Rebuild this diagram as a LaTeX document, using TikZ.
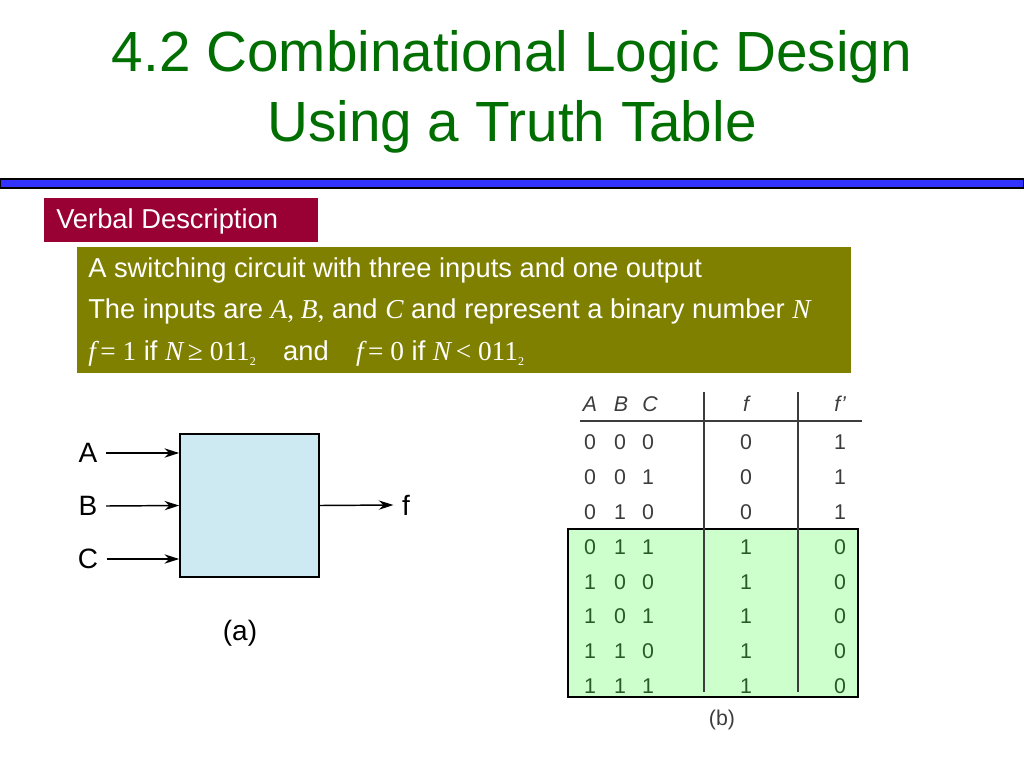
\documentclass[tikz,border=0pt]{standalone}
\usepackage{fontspec}
\setmainfont{Liberation Sans}
\newfontfamily\srf{Liberation Serif}
\usetikzlibrary{arrows.meta}
\definecolor{ttl}{RGB}{0,110,0}
\definecolor{barblue}{RGB}{51,51,255}
\definecolor{vred}{RGB}{153,0,51}
\definecolor{olive2}{RGB}{128,128,0}
\definecolor{lblue}{RGB}{205,234,242}
\definecolor{lgreen}{RGB}{204,255,204}
\definecolor{tgray}{RGB}{60,60,60}
\definecolor{tgreen}{RGB}{40,90,40}
\newcommand{\mi}[1]{{\srf\itshape #1}}
\newcommand{\mr}[1]{{\srf #1}}
\tikzset{
  arr/.style={-{Stealth[length=11pt,width=7pt]},line width=1.1pt},
  lab/.style={font=\fontsize{21}{24}\selectfont},
  cell/.style={font=\fontsize{16}{18}\selectfont,text=tgray},
  gcell/.style={font=\fontsize{16}{18}\selectfont,text=tgreen},
  wtxt/.style={text=white,font=\fontsize{20.5}{24}\selectfont,anchor=west,inner sep=0pt}
}
\begin{document}
\begin{tikzpicture}[x=0.75pt,y=-0.75pt]
\useasboundingbox (0,0) rectangle (1024,768);
\node[text=ttl,align=center,font=\fontsize{42.5}{52}\selectfont] (title) at (512,92) {4.2 Combinational Logic Design\\Using a Truth Table};
\draw[fill=barblue,draw=black,line width=0.8pt] (0,179) rectangle (1024,188);
\fill[vred] (44,198) rectangle (318,242);
\node[wtxt] (vd) at (56,221) {Verbal Description};
\fill[olive2] (77,247) rectangle (851,373);
\node[wtxt] (l1) at (88,270) {A switching circuit with three inputs and one output};
\node[wtxt] (l2) at (88,311) {The inputs are \mi{A}\mr{, }\mi{B}\mr{,} and \mi{C} and represent a binary number \mi{N}};
\node[wtxt] (l3) at (88,353) {\mi{f}\,\mr{= 1} if \mi{N}\,\mr{≥ 011}\raisebox{-0.4ex}{\mr{\small 2}}\quad and\quad \mi{f}\,\mr{= 0} if \mi{N}\,\mr{< 011}\raisebox{-0.4ex}{\mr{\small 2}}};
% block
\node[draw=black,line width=1.5pt,fill=lblue,minimum width=104pt,minimum height=107pt,inner sep=0pt] (blk) at (249.5,505.5) {};
\node[lab] (A) at (88,453) {A};
\node[lab] (B) at (88,506) {B};
\node[lab] (C) at (88,559) {C};
\coordinate (ai) at (blk.west |- A);
\coordinate (ci) at (blk.west |- C);
\draw[arr] (A.east) ++(4,0) -- (ai);
\draw[arr] (B.east) ++(4,0) -- (blk.west);
\draw[arr] (C.east) ++(4,0) -- (ci);
\node[lab] (f) at (406,505) {f};
\draw[arr] (blk.east) -- ([xshift=-3pt]f.west);
\node[lab] (ca) at (240,633) {(a)};
% table
\fill[lgreen] (568,529) rectangle (858,697);
\draw[line width=1.4pt] (568,529) rectangle (858,697);
\draw[line width=1.2pt,tgray] (580,421) -- (862,421);
\draw[line width=1.2pt,tgray] (704,392) -- (704,692);
\draw[line width=1.2pt,tgray] (798,392) -- (798,692);
\foreach \t/\x in {A/590,B/621,C/650,f/746,f'/840}
  \node[cell,font=\fontsize{16}{18}\selectfont\itshape] at (\x,404) {\t};
\foreach \a/\b/\c/\fv/\gv/\y/\st in {0/0/0/0/1/442/cell,0/0/1/0/1/477/cell,0/1/0/0/1/512/cell,0/1/1/1/0/547/gcell,1/0/0/1/0/582/gcell,1/0/1/1/0/616/gcell,1/1/0/1/0/651/gcell,1/1/1/1/0/686/gcell}{
  \node[\st] at (590,\y) {\a};
  \node[\st] at (620,\y) {\b};
  \node[\st] at (648,\y) {\c};
  \node[\st] at (746,\y) {\fv};
  \node[\st] at (840,\y) {\gv};
}
\node[cell] (cb) at (722,720) {(b)};
\end{tikzpicture}
\end{document}
